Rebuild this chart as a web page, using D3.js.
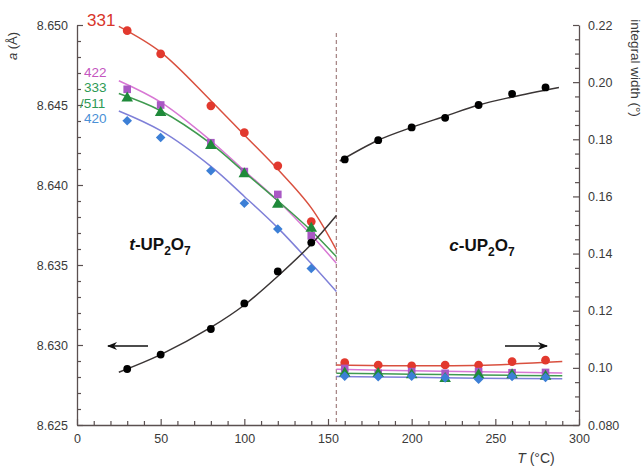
<!DOCTYPE html>
<html>
<head>
<meta charset="utf-8">
<script src="https://cdn.jsdelivr.net/npm/d3@7"></script>
<style>
  html, body { margin: 0; padding: 0; background: #fff; }
  svg { display: block; font-family: "Liberation Sans", Arial, Helvetica, sans-serif; }
</style>
</head>
<body>
<svg id="chart" width="644" height="466"></svg>
<script>
// ---------- data ----------
// lattice parameter a (Å), left axis
const tTemps = [30, 50, 80, 100, 120, 140];
const aTetra = [8.6285, 8.6294, 8.6310, 8.6326, 8.6346, 8.6364];
const cTemps = [160, 180, 200, 220, 240, 260, 280];
const aCubic = [8.6416, 8.6428, 8.6436, 8.6442, 8.6450, 8.6457, 8.6461];

// integral width (°), right axis — tetragonal phase
const w331_t = [0.2180, 0.2099, 0.1917, 0.1823, 0.1707, 0.1512];
const w422_t = [0.1975, 0.1920, 0.1788, 0.1687, 0.1607, 0.1462];
const w333_t = [0.1944, 0.1893, 0.1778, 0.1679, 0.1572, 0.1488];
const w420_t = [0.1865, 0.1806, 0.1690, 0.1576, 0.1486, 0.1348];
// cubic phase
const w331_c = [0.1018, 0.1010, 0.1007, 0.1010, 0.1010, 0.1022, 0.1027];
const w422_c = [0.0998, 0.0981, 0.0987, 0.0981, 0.0987, 0.0983, 0.0984];
const w333_c = [0.0981, 0.0980, 0.0975, 0.0962, 0.0975, 0.0975, 0.0970];
const w420_c = [0.0971, 0.0969, 0.0971, 0.0965, 0.0960, 0.0970, 0.0966];

// fitted curves
const fitTetraT = [25, 50, 80, 100, 120, 140, 155];
const fitA_t   = [8.6283, 8.6294, 8.6311, 8.6325, 8.6343, 8.6363, 8.6381];
const fit331_t = [0.2195, 0.2105, 0.1935, 0.1815, 0.1695, 0.1560, 0.1413];
const fit422_t = [0.2005, 0.1930, 0.1795, 0.1690, 0.1585, 0.1465, 0.1366];
const fit333_t = [0.1960, 0.1900, 0.1785, 0.1685, 0.1585, 0.1480, 0.1389];
const fit420_t = [0.1899, 0.1830, 0.1705, 0.1600, 0.1490, 0.1365, 0.1267];
const fitCubicT = [157, 180, 200, 220, 240, 260, 288];
const fitA_c    = [8.6415, 8.6428, 8.6436, 8.6443, 8.6450, 8.6455, 8.6461];
const fitCubicWT = [155, 200, 240, 290];
const fit331_c = [0.1010, 0.1007, 0.1009, 0.1022];
const fit422_c = [0.0995, 0.0990, 0.0986, 0.0982];
const fit333_c = [0.0981, 0.0978, 0.0975, 0.0972];
const fit420_c = [0.0970, 0.0967, 0.0964, 0.0962];

const transitionT = 155;

// ticks
const xTicks = [0, 50, 100, 150, 200, 250, 300];
const leftTicks = [8.625, 8.630, 8.635, 8.640, 8.645, 8.650];
const rightTicks = [0.08, 0.10, 0.12, 0.14, 0.16, 0.18, 0.20, 0.22];
const rightTickLabels = ["0.080", "0.10", "0.12", "0.14", "0.16", "0.18", "0.20", "0.22"];

// ---------- chart ----------
const svg = d3.select("#chart");
const x = d3.scaleLinear().domain([0, 300]).range([77, 579]);
const yL = d3.scaleLinear().domain([8.625, 8.650]).range([425, 25]);
const yR = d3.scaleLinear().domain([0.08, 0.22]).range([425, 25]);

const axisColor = "#5a5050";
const labelColor = "#3a3a3a";

function styleAxis(g) {
  g.selectAll("path.domain").attr("stroke", axisColor).attr("stroke-width", 1.3);
  g.selectAll(".tick line").attr("stroke", axisColor).attr("stroke-width", 1.2);
  g.selectAll(".tick text").attr("fill", labelColor).style("font-size", "12.5px");
}

// minor ticks
const xMinor = d3.range(0, 301, 10).filter(v => v % 50 !== 0);
const lMinor = d3.range(0, 26).map(i => 8.625 + i * 0.001).filter((v, i) => i % 5 !== 0);
const rMinor = d3.range(0, 29).map(i => 0.08 + i * 0.005).filter((v, i) => i % 4 !== 0);

// bottom
const gx = svg.append("g").attr("transform", "translate(0,425)")
  .call(d3.axisBottom(x).tickValues(xTicks).tickSizeInner(-6).tickSizeOuter(0).tickPadding(9).tickFormat(d3.format("d")));
styleAxis(gx);
const gxm = svg.append("g").attr("transform", "translate(0,425)")
  .call(d3.axisBottom(x).tickValues(xMinor).tickSizeInner(-4).tickSizeOuter(0).tickFormat(""));
styleAxis(gxm); gxm.select("path.domain").remove();

// left
const gl = svg.append("g").attr("transform", "translate(77,0)")
  .call(d3.axisLeft(yL).tickValues(leftTicks).tickSizeInner(-6).tickSizeOuter(0).tickPadding(9).tickFormat(d3.format(".3f")));
styleAxis(gl);
const glm = svg.append("g").attr("transform", "translate(77,0)")
  .call(d3.axisLeft(yL).tickValues(lMinor).tickSizeInner(-4).tickSizeOuter(0).tickFormat(""));
styleAxis(glm); glm.select("path.domain").remove();

// right
const gr = svg.append("g").attr("transform", "translate(579,0)")
  .call(d3.axisRight(yR).tickValues(rightTicks).tickSizeInner(-6).tickSizeOuter(0).tickPadding(9)
    .tickFormat((d, i) => rightTickLabels[i]));
styleAxis(gr);
const grm = svg.append("g").attr("transform", "translate(579,0)")
  .call(d3.axisRight(yR).tickValues(rMinor).tickSizeInner(-4).tickSizeOuter(0).tickFormat(""));
styleAxis(grm); grm.select("path.domain").remove();

// axis titles
svg.append("text")
  .attr("transform", "translate(17,46) rotate(-90)")
  .attr("text-anchor", "middle").attr("fill", labelColor).style("font-size", "13px")
  .html('<tspan font-style="italic">a</tspan> (Å)');
svg.append("text")
  .attr("transform", "translate(631,68) rotate(90)")
  .attr("text-anchor", "middle").attr("fill", labelColor).style("font-size", "13.5px")
  .text("integral width (°)");
svg.append("text")
  .attr("x", 536).attr("y", 463)
  .attr("text-anchor", "middle").attr("fill", labelColor).style("font-size", "14px")
  .html('<tspan font-style="italic">T</tspan> (°C)');

// transition dashed line
svg.append("line")
  .attr("x1", x(transitionT)).attr("x2", x(transitionT))
  .attr("y1", 33).attr("y2", 425)
  .attr("stroke", "#a88888").attr("stroke-width", 1.3).attr("stroke-dasharray", "4,3");

// lines
const lineL = d3.line().x(d => x(d[0])).y(d => yL(d[1])).curve(d3.curveCatmullRom);
const lineR = d3.line().x(d => x(d[0])).y(d => yR(d[1])).curve(d3.curveCatmullRom);
const zip = (a, b) => a.map((v, i) => [v, b[i]]);

const series = [
  { name: "331", color: "#e2392e", line: "#d9503f", sym: d3.symbolCircle, size: 60, rot: 0,
    t: w331_t, c: w331_c, ft: fit331_t, fc: fit331_c },
  { name: "422", color: "#a958c4", line: "#d877d4", sym: d3.symbolSquare, size: 58, rot: 0,
    t: w422_t, c: w422_c, ft: fit422_t, fc: fit422_c },
  { name: "333", color: "#1f8a3a", line: "#3f9a4f", sym: d3.symbolTriangle, size: 58, rot: 0,
    t: w333_t, c: w333_c, ft: fit333_t, fc: fit333_c },
  { name: "420", color: "#3c7fd6", line: "#7f80d8", sym: d3.symbolSquare, size: 46, rot: 45,
    t: w420_t, c: w420_c, ft: fit420_t, fc: fit420_c }
];

// fitted curves
series.forEach(s => {
  svg.append("path").attr("d", lineR(zip(fitTetraT, s.ft)))
    .attr("fill", "none").attr("stroke", s.line).attr("stroke-width", 1.5);
  svg.append("path").attr("d", lineR(zip(fitCubicWT, s.fc)))
    .attr("fill", "none").attr("stroke", s.line).attr("stroke-width", 1.5);
});
svg.append("path").attr("d", lineL(zip(fitTetraT, fitA_t)))
  .attr("fill", "none").attr("stroke", "#3a3535").attr("stroke-width", 1.5);
svg.append("path").attr("d", lineL(zip(fitCubicT, fitA_c)))
  .attr("fill", "none").attr("stroke", "#3a3535").attr("stroke-width", 1.5);

// markers
series.forEach(s => {
  const sym = d3.symbol().type(s.sym).size(s.size);
  svg.append("g").selectAll("path").data(zip(tTemps, s.t).concat(zip(cTemps, s.c))).join("path")
    .attr("d", sym)
    .attr("transform", d => `translate(${x(d[0])},${yR(d[1])}) rotate(${s.rot})`)
    .attr("fill", s.color);
});
const blackSym = d3.symbol().type(d3.symbolCircle).size(48);
svg.append("g").selectAll("path").data(zip(tTemps, aTetra).concat(zip(cTemps, aCubic))).join("path")
  .attr("d", blackSym)
  .attr("transform", d => `translate(${x(d[0])},${yL(d[1])})`)
  .attr("fill", "#000");

// series labels
const labels = [
  { text: "331", color: "#d8352a", x: 87, y: 26, size: 17 },
  { text: "422", color: "#c455c0", x: 84, y: 77, size: 13.5 },
  { text: "333", color: "#2e9a55", x: 84, y: 92.3, size: 13.5 },
  { text: "/511", color: "#2e9a55", x: 80, y: 107.6, size: 13.5 },
  { text: "420", color: "#4a90d6", x: 84, y: 123, size: 13.5 }
];
svg.append("g").selectAll("text").data(labels).join("text")
  .attr("x", d => d.x).attr("y", d => d.y)
  .attr("fill", d => d.color).style("font-size", d => d.size + "px")
  .text(d => d.text);

// phase labels
function phaseLabel(px, py, prefix) {
  const t = svg.append("text").attr("x", px).attr("y", py)
    .attr("text-anchor", "middle").attr("font-weight", "bold").style("font-size", "17px").attr("fill", "#111");
  t.append("tspan").attr("font-style", "italic").text(prefix);
  t.append("tspan").text("-UP");
  t.append("tspan").attr("dy", 5).style("font-size", "12px").text("2");
  t.append("tspan").attr("dy", -5).text("O");
  t.append("tspan").attr("dy", 5).style("font-size", "12px").text("7");
}
phaseLabel(160, 250, "t");
phaseLabel(482, 251, "c");

// arrows
const defs = svg.append("defs");
defs.append("marker").attr("id", "ah").attr("viewBox", "0 0 10 10")
  .attr("refX", 9).attr("refY", 5).attr("markerWidth", 10).attr("markerHeight", 10)
  .attr("markerUnits", "userSpaceOnUse").attr("orient", "auto")
  .append("path").attr("d", "M0,1 L10,5 L0,9 L3,5 Z").attr("fill", "#111");
svg.append("line").attr("x1", 148).attr("y1", 346).attr("x2", 108).attr("y2", 346)
  .attr("stroke", "#111").attr("stroke-width", 1.6).attr("marker-end", "url(#ah)");
svg.append("line").attr("x1", 505).attr("y1", 346).attr("x2", 547).attr("y2", 346)
  .attr("stroke", "#111").attr("stroke-width", 1.6).attr("marker-end", "url(#ah)");
</script>
</body>
</html>
